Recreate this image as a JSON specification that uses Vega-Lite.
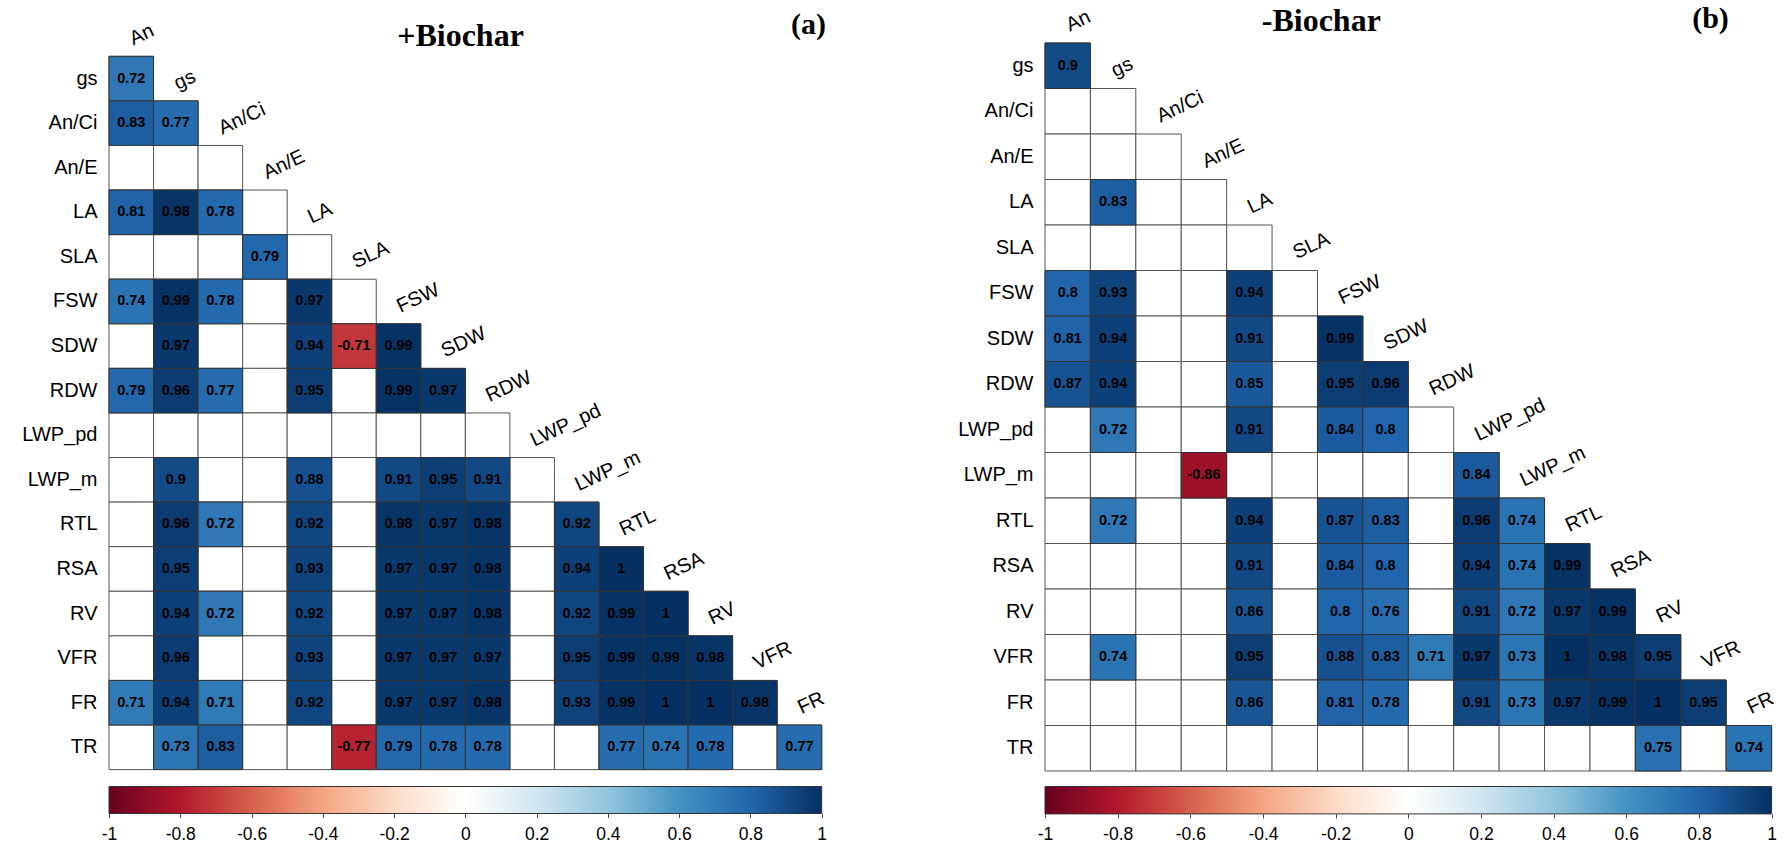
{
  "$schema": "https://vega.github.io/schema/vega-lite/v6.json",
  "padding": {"left": 21, "top": 3, "right": 0, "bottom": 0},
  "config": {
    "font": "Liberation Sans",
    "view": {"stroke": null},
    "axis": {"grid": false}
  },
  "datasets": {
    "grid": [
      {"r": "gs", "c": "An"},
      {"r": "An/Ci", "c": "An"}, {"r": "An/Ci", "c": "gs"},
      {"r": "An/E", "c": "An"}, {"r": "An/E", "c": "gs"}, {"r": "An/E", "c": "An/Ci"},
      {"r": "LA", "c": "An"}, {"r": "LA", "c": "gs"}, {"r": "LA", "c": "An/Ci"}, {"r": "LA", "c": "An/E"},
      {"r": "SLA", "c": "An"}, {"r": "SLA", "c": "gs"}, {"r": "SLA", "c": "An/Ci"}, {"r": "SLA", "c": "An/E"}, {"r": "SLA", "c": "LA"},
      {"r": "FSW", "c": "An"}, {"r": "FSW", "c": "gs"}, {"r": "FSW", "c": "An/Ci"}, {"r": "FSW", "c": "An/E"}, {"r": "FSW", "c": "LA"}, {"r": "FSW", "c": "SLA"},
      {"r": "SDW", "c": "An"}, {"r": "SDW", "c": "gs"}, {"r": "SDW", "c": "An/Ci"}, {"r": "SDW", "c": "An/E"}, {"r": "SDW", "c": "LA"}, {"r": "SDW", "c": "SLA"}, {"r": "SDW", "c": "FSW"},
      {"r": "RDW", "c": "An"}, {"r": "RDW", "c": "gs"}, {"r": "RDW", "c": "An/Ci"}, {"r": "RDW", "c": "An/E"}, {"r": "RDW", "c": "LA"}, {"r": "RDW", "c": "SLA"}, {"r": "RDW", "c": "FSW"}, {"r": "RDW", "c": "SDW"},
      {"r": "LWP_pd", "c": "An"}, {"r": "LWP_pd", "c": "gs"}, {"r": "LWP_pd", "c": "An/Ci"}, {"r": "LWP_pd", "c": "An/E"}, {"r": "LWP_pd", "c": "LA"}, {"r": "LWP_pd", "c": "SLA"}, {"r": "LWP_pd", "c": "FSW"}, {"r": "LWP_pd", "c": "SDW"}, {"r": "LWP_pd", "c": "RDW"},
      {"r": "LWP_m", "c": "An"}, {"r": "LWP_m", "c": "gs"}, {"r": "LWP_m", "c": "An/Ci"}, {"r": "LWP_m", "c": "An/E"}, {"r": "LWP_m", "c": "LA"}, {"r": "LWP_m", "c": "SLA"}, {"r": "LWP_m", "c": "FSW"}, {"r": "LWP_m", "c": "SDW"}, {"r": "LWP_m", "c": "RDW"}, {"r": "LWP_m", "c": "LWP_pd"},
      {"r": "RTL", "c": "An"}, {"r": "RTL", "c": "gs"}, {"r": "RTL", "c": "An/Ci"}, {"r": "RTL", "c": "An/E"}, {"r": "RTL", "c": "LA"}, {"r": "RTL", "c": "SLA"}, {"r": "RTL", "c": "FSW"}, {"r": "RTL", "c": "SDW"}, {"r": "RTL", "c": "RDW"}, {"r": "RTL", "c": "LWP_pd"}, {"r": "RTL", "c": "LWP_m"},
      {"r": "RSA", "c": "An"}, {"r": "RSA", "c": "gs"}, {"r": "RSA", "c": "An/Ci"}, {"r": "RSA", "c": "An/E"}, {"r": "RSA", "c": "LA"}, {"r": "RSA", "c": "SLA"}, {"r": "RSA", "c": "FSW"}, {"r": "RSA", "c": "SDW"}, {"r": "RSA", "c": "RDW"}, {"r": "RSA", "c": "LWP_pd"}, {"r": "RSA", "c": "LWP_m"}, {"r": "RSA", "c": "RTL"},
      {"r": "RV", "c": "An"}, {"r": "RV", "c": "gs"}, {"r": "RV", "c": "An/Ci"}, {"r": "RV", "c": "An/E"}, {"r": "RV", "c": "LA"}, {"r": "RV", "c": "SLA"}, {"r": "RV", "c": "FSW"}, {"r": "RV", "c": "SDW"}, {"r": "RV", "c": "RDW"}, {"r": "RV", "c": "LWP_pd"}, {"r": "RV", "c": "LWP_m"}, {"r": "RV", "c": "RTL"}, {"r": "RV", "c": "RSA"},
      {"r": "VFR", "c": "An"}, {"r": "VFR", "c": "gs"}, {"r": "VFR", "c": "An/Ci"}, {"r": "VFR", "c": "An/E"}, {"r": "VFR", "c": "LA"}, {"r": "VFR", "c": "SLA"}, {"r": "VFR", "c": "FSW"}, {"r": "VFR", "c": "SDW"}, {"r": "VFR", "c": "RDW"}, {"r": "VFR", "c": "LWP_pd"}, {"r": "VFR", "c": "LWP_m"}, {"r": "VFR", "c": "RTL"}, {"r": "VFR", "c": "RSA"}, {"r": "VFR", "c": "RV"},
      {"r": "FR", "c": "An"}, {"r": "FR", "c": "gs"}, {"r": "FR", "c": "An/Ci"}, {"r": "FR", "c": "An/E"}, {"r": "FR", "c": "LA"}, {"r": "FR", "c": "SLA"}, {"r": "FR", "c": "FSW"}, {"r": "FR", "c": "SDW"}, {"r": "FR", "c": "RDW"}, {"r": "FR", "c": "LWP_pd"}, {"r": "FR", "c": "LWP_m"}, {"r": "FR", "c": "RTL"}, {"r": "FR", "c": "RSA"}, {"r": "FR", "c": "RV"}, {"r": "FR", "c": "VFR"},
      {"r": "TR", "c": "An"}, {"r": "TR", "c": "gs"}, {"r": "TR", "c": "An/Ci"}, {"r": "TR", "c": "An/E"}, {"r": "TR", "c": "LA"}, {"r": "TR", "c": "SLA"}, {"r": "TR", "c": "FSW"}, {"r": "TR", "c": "SDW"}, {"r": "TR", "c": "RDW"}, {"r": "TR", "c": "LWP_pd"}, {"r": "TR", "c": "LWP_m"}, {"r": "TR", "c": "RTL"}, {"r": "TR", "c": "RSA"}, {"r": "TR", "c": "RV"}, {"r": "TR", "c": "VFR"}, {"r": "TR", "c": "FR"}
    ],
    "labels": [
      {"c": "An", "r": "gs"}, {"c": "gs", "r": "An/Ci"}, {"c": "An/Ci", "r": "An/E"}, {"c": "An/E", "r": "LA"},
      {"c": "LA", "r": "SLA"}, {"c": "SLA", "r": "FSW"}, {"c": "FSW", "r": "SDW"}, {"c": "SDW", "r": "RDW"},
      {"c": "RDW", "r": "LWP_pd"}, {"c": "LWP_pd", "r": "LWP_m"}, {"c": "LWP_m", "r": "RTL"}, {"c": "RTL", "r": "RSA"},
      {"c": "RSA", "r": "RV"}, {"c": "RV", "r": "VFR"}, {"c": "VFR", "r": "FR"}, {"c": "FR", "r": "TR"}
    ],
    "a": [
      {"r": "gs", "c": "An", "v": 0.72},
      {"r": "An/Ci", "c": "An", "v": 0.83}, {"r": "An/Ci", "c": "gs", "v": 0.77},
      {"r": "LA", "c": "An", "v": 0.81}, {"r": "LA", "c": "gs", "v": 0.98}, {"r": "LA", "c": "An/Ci", "v": 0.78},
      {"r": "SLA", "c": "An/E", "v": 0.79},
      {"r": "FSW", "c": "An", "v": 0.74}, {"r": "FSW", "c": "gs", "v": 0.99}, {"r": "FSW", "c": "An/Ci", "v": 0.78}, {"r": "FSW", "c": "LA", "v": 0.97},
      {"r": "SDW", "c": "gs", "v": 0.97}, {"r": "SDW", "c": "LA", "v": 0.94}, {"r": "SDW", "c": "SLA", "v": -0.71}, {"r": "SDW", "c": "FSW", "v": 0.99},
      {"r": "RDW", "c": "An", "v": 0.79}, {"r": "RDW", "c": "gs", "v": 0.96}, {"r": "RDW", "c": "An/Ci", "v": 0.77}, {"r": "RDW", "c": "LA", "v": 0.95}, {"r": "RDW", "c": "FSW", "v": 0.99}, {"r": "RDW", "c": "SDW", "v": 0.97},
      {"r": "LWP_m", "c": "gs", "v": 0.9}, {"r": "LWP_m", "c": "LA", "v": 0.88}, {"r": "LWP_m", "c": "FSW", "v": 0.91}, {"r": "LWP_m", "c": "SDW", "v": 0.95}, {"r": "LWP_m", "c": "RDW", "v": 0.91},
      {"r": "RTL", "c": "gs", "v": 0.96}, {"r": "RTL", "c": "An/Ci", "v": 0.72}, {"r": "RTL", "c": "LA", "v": 0.92}, {"r": "RTL", "c": "FSW", "v": 0.98}, {"r": "RTL", "c": "SDW", "v": 0.97}, {"r": "RTL", "c": "RDW", "v": 0.98}, {"r": "RTL", "c": "LWP_m", "v": 0.92},
      {"r": "RSA", "c": "gs", "v": 0.95}, {"r": "RSA", "c": "LA", "v": 0.93}, {"r": "RSA", "c": "FSW", "v": 0.97}, {"r": "RSA", "c": "SDW", "v": 0.97}, {"r": "RSA", "c": "RDW", "v": 0.98}, {"r": "RSA", "c": "LWP_m", "v": 0.94}, {"r": "RSA", "c": "RTL", "v": 1},
      {"r": "RV", "c": "gs", "v": 0.94}, {"r": "RV", "c": "An/Ci", "v": 0.72}, {"r": "RV", "c": "LA", "v": 0.92}, {"r": "RV", "c": "FSW", "v": 0.97}, {"r": "RV", "c": "SDW", "v": 0.97}, {"r": "RV", "c": "RDW", "v": 0.98}, {"r": "RV", "c": "LWP_m", "v": 0.92}, {"r": "RV", "c": "RTL", "v": 0.99}, {"r": "RV", "c": "RSA", "v": 1},
      {"r": "VFR", "c": "gs", "v": 0.96}, {"r": "VFR", "c": "LA", "v": 0.93}, {"r": "VFR", "c": "FSW", "v": 0.97}, {"r": "VFR", "c": "SDW", "v": 0.97}, {"r": "VFR", "c": "RDW", "v": 0.97}, {"r": "VFR", "c": "LWP_m", "v": 0.95}, {"r": "VFR", "c": "RTL", "v": 0.99}, {"r": "VFR", "c": "RSA", "v": 0.99}, {"r": "VFR", "c": "RV", "v": 0.98},
      {"r": "FR", "c": "An", "v": 0.71}, {"r": "FR", "c": "gs", "v": 0.94}, {"r": "FR", "c": "An/Ci", "v": 0.71}, {"r": "FR", "c": "LA", "v": 0.92}, {"r": "FR", "c": "FSW", "v": 0.97}, {"r": "FR", "c": "SDW", "v": 0.97}, {"r": "FR", "c": "RDW", "v": 0.98}, {"r": "FR", "c": "LWP_m", "v": 0.93}, {"r": "FR", "c": "RTL", "v": 0.99}, {"r": "FR", "c": "RSA", "v": 1}, {"r": "FR", "c": "RV", "v": 1}, {"r": "FR", "c": "VFR", "v": 0.98},
      {"r": "TR", "c": "gs", "v": 0.73}, {"r": "TR", "c": "An/Ci", "v": 0.83}, {"r": "TR", "c": "SLA", "v": -0.77}, {"r": "TR", "c": "FSW", "v": 0.79}, {"r": "TR", "c": "SDW", "v": 0.78}, {"r": "TR", "c": "RDW", "v": 0.78}, {"r": "TR", "c": "RTL", "v": 0.77}, {"r": "TR", "c": "RSA", "v": 0.74}, {"r": "TR", "c": "RV", "v": 0.78}, {"r": "TR", "c": "FR", "v": 0.77}
    ],
    "b": [
      {"r": "gs", "c": "An", "v": 0.9},
      {"r": "LA", "c": "gs", "v": 0.83},
      {"r": "FSW", "c": "An", "v": 0.8}, {"r": "FSW", "c": "gs", "v": 0.93}, {"r": "FSW", "c": "LA", "v": 0.94},
      {"r": "SDW", "c": "An", "v": 0.81}, {"r": "SDW", "c": "gs", "v": 0.94}, {"r": "SDW", "c": "LA", "v": 0.91}, {"r": "SDW", "c": "FSW", "v": 0.99},
      {"r": "RDW", "c": "An", "v": 0.87}, {"r": "RDW", "c": "gs", "v": 0.94}, {"r": "RDW", "c": "LA", "v": 0.85}, {"r": "RDW", "c": "FSW", "v": 0.95}, {"r": "RDW", "c": "SDW", "v": 0.96},
      {"r": "LWP_pd", "c": "gs", "v": 0.72}, {"r": "LWP_pd", "c": "LA", "v": 0.91}, {"r": "LWP_pd", "c": "FSW", "v": 0.84}, {"r": "LWP_pd", "c": "SDW", "v": 0.8},
      {"r": "LWP_m", "c": "An/E", "v": -0.86}, {"r": "LWP_m", "c": "LWP_pd", "v": 0.84},
      {"r": "RTL", "c": "gs", "v": 0.72}, {"r": "RTL", "c": "LA", "v": 0.94}, {"r": "RTL", "c": "FSW", "v": 0.87}, {"r": "RTL", "c": "SDW", "v": 0.83}, {"r": "RTL", "c": "LWP_pd", "v": 0.96}, {"r": "RTL", "c": "LWP_m", "v": 0.74},
      {"r": "RSA", "c": "LA", "v": 0.91}, {"r": "RSA", "c": "FSW", "v": 0.84}, {"r": "RSA", "c": "SDW", "v": 0.8}, {"r": "RSA", "c": "LWP_pd", "v": 0.94}, {"r": "RSA", "c": "LWP_m", "v": 0.74}, {"r": "RSA", "c": "RTL", "v": 0.99},
      {"r": "RV", "c": "LA", "v": 0.86}, {"r": "RV", "c": "FSW", "v": 0.8}, {"r": "RV", "c": "SDW", "v": 0.76}, {"r": "RV", "c": "LWP_pd", "v": 0.91}, {"r": "RV", "c": "LWP_m", "v": 0.72}, {"r": "RV", "c": "RTL", "v": 0.97}, {"r": "RV", "c": "RSA", "v": 0.99},
      {"r": "VFR", "c": "gs", "v": 0.74}, {"r": "VFR", "c": "LA", "v": 0.95}, {"r": "VFR", "c": "FSW", "v": 0.88}, {"r": "VFR", "c": "SDW", "v": 0.83}, {"r": "VFR", "c": "RDW", "v": 0.71}, {"r": "VFR", "c": "LWP_pd", "v": 0.97}, {"r": "VFR", "c": "LWP_m", "v": 0.73}, {"r": "VFR", "c": "RTL", "v": 1}, {"r": "VFR", "c": "RSA", "v": 0.98}, {"r": "VFR", "c": "RV", "v": 0.95},
      {"r": "FR", "c": "LA", "v": 0.86}, {"r": "FR", "c": "FSW", "v": 0.81}, {"r": "FR", "c": "SDW", "v": 0.78}, {"r": "FR", "c": "LWP_pd", "v": 0.91}, {"r": "FR", "c": "LWP_m", "v": 0.73}, {"r": "FR", "c": "RTL", "v": 0.97}, {"r": "FR", "c": "RSA", "v": 0.99}, {"r": "FR", "c": "RV", "v": 1}, {"r": "FR", "c": "VFR", "v": 0.95},
      {"r": "TR", "c": "RV", "v": 0.75}, {"r": "TR", "c": "FR", "v": 0.74}
    ],
    "bar": [{"lo": -1, "hi": 1}]
  },
  "columns": 2,
  "align": "each",
  "spacing": {"row": 13.5, "column": 129},
  "concat": [
    {
      "width": 712.7,
      "height": 726.6,
      "encoding": {
        "x": {"field": "c", "type": "nominal",
          "scale": {"domain": ["An","gs","An/Ci","An/E","LA","SLA","FSW","SDW","RDW","LWP_pd","LWP_m","RTL","RSA","RV","VFR","FR"], "paddingInner": 0, "paddingOuter": 0},
          "axis": {"orient": "top", "labels": false, "ticks": false, "domain": false, "title": "+Biochar", "titleFont": "Liberation Serif", "titleFontWeight": "bold", "titleFontSize": 32, "titleColor": "black", "titleX": 351, "titleY": 2.3, "titleAlign": "center", "titleBaseline": "alphabetic"}},
        "y": {"field": "r", "type": "nominal",
          "scale": {"domain": ["gs","An/Ci","An/E","LA","SLA","FSW","SDW","RDW","LWP_pd","LWP_m","RTL","RSA","RV","VFR","FR","TR"], "range": [13.3, 726.6], "paddingInner": 0, "paddingOuter": 0},
          "axis": {"ticks": false, "domain": false, "labelFontSize": 20, "labelPadding": 12, "labelColor": "black", "title": "(a)", "titleAngle": 0, "titleFont": "Liberation Serif", "titleFontWeight": "bold", "titleFontSize": 30, "titleColor": "black", "titleX": 699, "titleY": -9.7, "titleAlign": "center", "titleBaseline": "alphabetic"}}
      },
      "layer": [
        {"data": {"name": "grid"}, "mark": {"type": "rect", "fill": "white", "stroke": "#555555", "strokeWidth": 1}},
        {"data": {"name": "a"}, "mark": {"type": "rect", "stroke": "#333333", "strokeWidth": 1},
          "encoding": {"color": {"field": "v", "type": "quantitative", "scale": {"domain": [-1, 1], "range": ["#67001F","#B2182B","#D6604D","#F4A582","#FDDBC7","#FFFFFF","#D1E5F0","#92C5DE","#4393C3","#2166AC","#053061"], "interpolate": "rgb"}, "legend": null}}},
        {"data": {"name": "a"}, "mark": {"type": "text", "fontSize": 14.5, "fontWeight": "bold", "color": "black"},
          "encoding": {"text": {"field": "v", "type": "nominal"}}},
        {"data": {"name": "labels"}, "mark": {"type": "text", "angle": 335, "align": "left", "baseline": "alphabetic", "fontSize": 20, "color": "black", "xOffset": 2, "yOffset": -33.1},
          "encoding": {"text": {"field": "c", "type": "nominal"}}}
      ]
    },
    {
      "width": 726.6,
      "height": 728,
      "encoding": {
        "x": {"field": "c", "type": "nominal",
          "scale": {"domain": ["An","gs","An/Ci","An/E","LA","SLA","FSW","SDW","RDW","LWP_pd","LWP_m","RTL","RSA","RV","VFR","FR"], "paddingInner": 0, "paddingOuter": 0},
          "axis": {"orient": "top", "labels": false, "ticks": false, "domain": false, "title": "-Biochar", "titleFont": "Liberation Serif", "titleFontWeight": "bold", "titleFontSize": 32, "titleColor": "black", "titleX": 275.8, "titleY": -12.7, "titleAlign": "center", "titleBaseline": "alphabetic"}},
        "y": {"field": "r", "type": "nominal",
          "scale": {"domain": ["gs","An/Ci","An/E","LA","SLA","FSW","SDW","RDW","LWP_pd","LWP_m","RTL","RSA","RV","VFR","FR","TR"], "paddingInner": 0, "paddingOuter": 0},
          "axis": {"ticks": false, "domain": false, "labelFontSize": 20, "labelPadding": 12, "labelColor": "black", "title": "(b)", "titleAngle": 0, "titleFont": "Liberation Serif", "titleFontWeight": "bold", "titleFontSize": 30, "titleColor": "black", "titleX": 665, "titleY": -15.7, "titleAlign": "center", "titleBaseline": "alphabetic"}}
      },
      "layer": [
        {"data": {"name": "grid"}, "mark": {"type": "rect", "fill": "white", "stroke": "#555555", "strokeWidth": 1}},
        {"data": {"name": "b"}, "mark": {"type": "rect", "stroke": "#333333", "strokeWidth": 1},
          "encoding": {"color": {"field": "v", "type": "quantitative", "scale": {"domain": [-1, 1], "range": ["#67001F","#B2182B","#D6604D","#F4A582","#FDDBC7","#FFFFFF","#D1E5F0","#92C5DE","#4393C3","#2166AC","#053061"], "interpolate": "rgb"}, "legend": null}}},
        {"data": {"name": "b"}, "mark": {"type": "text", "fontSize": 14.5, "fontWeight": "bold", "color": "black"},
          "encoding": {"text": {"field": "v", "type": "nominal"}}},
        {"data": {"name": "labels"}, "mark": {"type": "text", "angle": 335, "align": "left", "baseline": "alphabetic", "fontSize": 20, "color": "black", "xOffset": 2, "yOffset": -34},
          "encoding": {"text": {"field": "c", "type": "nominal"}}}
      ]
    },
    {
      "width": 712.7,
      "height": 27,
      "data": {"name": "bar"},
      "mark": {"type": "rect", "stroke": "#333333", "strokeWidth": 1,
        "fill": {"gradient": "linear", "x1": 0, "y1": 0, "x2": 1, "y2": 0, "stops": [
          {"offset": 0, "color": "#67001F"}, {"offset": 0.1, "color": "#B2182B"}, {"offset": 0.2, "color": "#D6604D"}, {"offset": 0.3, "color": "#F4A582"}, {"offset": 0.4, "color": "#FDDBC7"}, {"offset": 0.5, "color": "#FFFFFF"}, {"offset": 0.6, "color": "#D1E5F0"}, {"offset": 0.7, "color": "#92C5DE"}, {"offset": 0.8, "color": "#4393C3"}, {"offset": 0.9, "color": "#2166AC"}, {"offset": 1, "color": "#053061"}]}},
      "encoding": {
        "x": {"field": "lo", "type": "quantitative", "scale": {"domain": [-1, 1], "nice": false, "zero": false},
          "axis": {"values": [-1, -0.8, -0.6, -0.4, -0.2, 0, 0.2, 0.4, 0.6, 0.8, 1], "labelExpr": "'' + datum.value", "tickSize": 4, "tickColor": "#444444", "domain": false, "labelFontSize": 17.5, "labelPadding": 8, "labelColor": "black", "title": null, "labelFlush": false, "labelOverlap": false, "labelBound": false}},
        "x2": {"field": "hi"}
      }
    },
    {
      "width": 726.6,
      "height": 27.4,
      "data": {"name": "bar"},
      "mark": {"type": "rect", "stroke": "#333333", "strokeWidth": 1,
        "fill": {"gradient": "linear", "x1": 0, "y1": 0, "x2": 1, "y2": 0, "stops": [
          {"offset": 0, "color": "#67001F"}, {"offset": 0.1, "color": "#B2182B"}, {"offset": 0.2, "color": "#D6604D"}, {"offset": 0.3, "color": "#F4A582"}, {"offset": 0.4, "color": "#FDDBC7"}, {"offset": 0.5, "color": "#FFFFFF"}, {"offset": 0.6, "color": "#D1E5F0"}, {"offset": 0.7, "color": "#92C5DE"}, {"offset": 0.8, "color": "#4393C3"}, {"offset": 0.9, "color": "#2166AC"}, {"offset": 1, "color": "#053061"}]}},
      "encoding": {
        "x": {"field": "lo", "type": "quantitative", "scale": {"domain": [-1, 1], "nice": false, "zero": false},
          "axis": {"values": [-1, -0.8, -0.6, -0.4, -0.2, 0, 0.2, 0.4, 0.6, 0.8, 1], "labelExpr": "'' + datum.value", "tickSize": 4, "tickColor": "#444444", "domain": false, "labelFontSize": 17.5, "labelPadding": 8, "labelColor": "black", "title": null, "labelFlush": false, "labelOverlap": false, "labelBound": false}},
        "x2": {"field": "hi"}
      }
    }
  ]
}
